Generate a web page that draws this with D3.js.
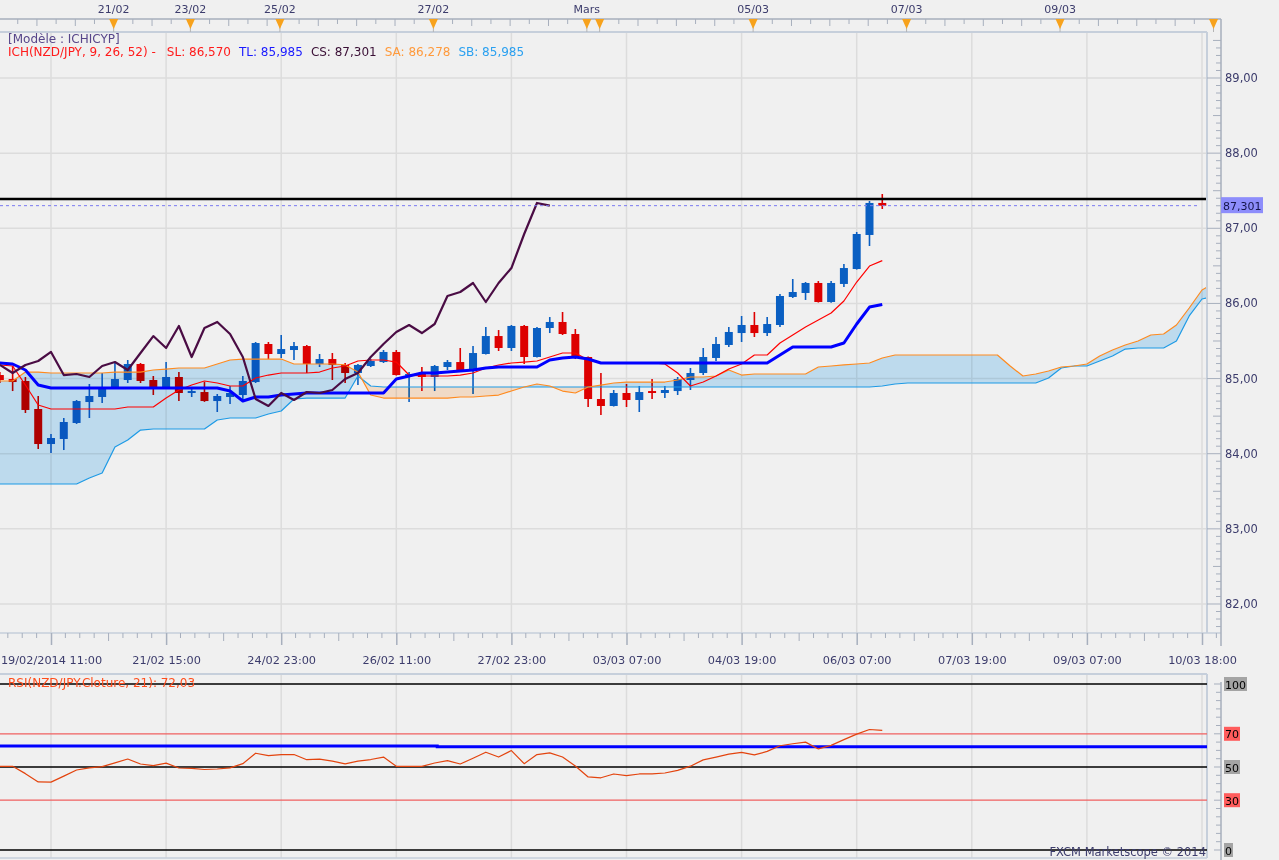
<!DOCTYPE html>
<html lang="fr">
<head>
<meta charset="utf-8">
<title>NZD/JPY Ichimoku</title>
<script src="https://cdn.jsdelivr.net/npm/d3@7/dist/d3.min.js"></script>
<style>
html,body{margin:0;padding:0;background:#f0f0f0;}
svg{display:block;font-family:"DejaVu Sans",Verdana,sans-serif;font-size:11px;}
</style>
</head>
<body>
<svg id="chart" width="1279" height="860"></svg>
<script>
// ---------------- DATA ----------------
const opens = [85.047,84.994,84.968,84.595,84.129,84.196,84.409,84.688,84.755,84.888,
  84.981,85.194,84.981,84.888,85.021,84.808,84.821,84.701,84.755,84.781,
  84.954,85.460,85.327,85.380,85.433,85.194,85.260,85.181,85.074,85.167,
  85.220,85.354,85.047,85.074,85.021,85.154,85.220,85.114,85.327,85.566,
  85.407,85.700,85.287,85.673,85.753,85.593,85.287,84.728,84.635,84.808,
  84.715,84.834,84.808,84.834,84.981,85.074,85.274,85.447,85.606,85.713,
  85.606,85.713,86.086,86.139,86.272,86.019,86.259,86.458,86.911,87.337];
const highs = [85.087,85.167,85.021,84.768,84.262,84.475,84.715,84.928,85.074,85.207,
  85.247,85.207,85.034,85.220,85.087,84.874,84.954,84.795,84.901,85.034,
  85.487,85.487,85.580,85.487,85.447,85.327,85.340,85.207,85.194,85.260,
  85.380,85.380,85.087,85.154,85.181,85.247,85.407,85.433,85.686,85.646,
  85.713,85.713,85.686,85.819,85.886,85.660,85.294,85.074,84.848,84.928,
  84.901,84.994,84.901,85.021,85.141,85.407,85.553,85.686,85.833,85.886,
  85.819,86.125,86.325,86.285,86.298,86.298,86.525,86.951,87.363,87.456];
const lows = [84.941,84.834,84.542,84.063,84.009,84.049,84.396,84.475,84.675,84.875,
  84.941,84.941,84.781,84.875,84.701,84.755,84.690,84.555,84.661,84.701,
  84.941,85.260,85.274,85.247,85.074,85.154,84.981,84.941,84.914,85.154,
  85.207,85.040,84.688,84.834,84.834,85.114,85.101,84.795,85.320,85.367,
  85.367,85.194,85.280,85.606,85.580,85.260,84.622,84.515,84.628,84.622,
  84.555,84.728,84.741,84.781,84.848,85.047,85.234,85.420,85.487,85.553,
  85.566,85.686,86.072,86.046,86.012,86.010,86.219,86.450,86.764,87.257];
const closes = [84.981,84.954,84.582,84.129,84.209,84.422,84.701,84.768,84.874,84.994,
  85.194,84.968,84.888,85.021,84.808,84.834,84.701,84.768,84.808,84.968,
  85.473,85.327,85.393,85.433,85.194,85.260,85.181,85.074,85.181,85.234,
  85.354,85.047,85.061,85.021,85.167,85.220,85.114,85.340,85.566,85.407,
  85.700,85.287,85.673,85.753,85.593,85.287,84.728,84.635,84.808,84.715,
  84.821,84.808,84.848,84.994,85.074,85.287,85.460,85.620,85.713,85.606,
  85.726,86.099,86.152,86.272,86.019,86.272,86.471,86.924,87.337,87.301];

// SL (red, thin)
const lineSL = [85.181,85.167,84.914,84.648,84.595,84.595,84.595,84.595,84.595,84.595,
  84.622,84.622,84.622,84.741,84.848,84.914,84.968,84.941,84.901,84.901,
  85.008,85.047,85.074,85.074,85.074,85.087,85.141,85.167,85.234,85.247,
  85.247,85.220,85.047,85.034,85.034,85.034,85.047,85.074,85.141,85.181,
  85.207,85.220,85.234,85.287,85.340,85.340,85.247,85.207,85.207,85.207,
  85.207,85.207,85.194,85.074,84.901,84.954,85.034,85.127,85.194,85.314,
  85.314,85.473,85.580,85.686,85.779,85.873,86.032,86.285,86.498,86.570];
// TL (blue, thick)
const lineTL = [85.207,85.194,85.114,84.914,84.874,84.874,84.874,84.874,84.874,84.874,
  84.874,84.874,84.874,84.874,84.874,84.874,84.874,84.874,84.834,84.701,
  84.755,84.755,84.781,84.795,84.808,84.808,84.808,84.808,84.808,84.808,
  84.808,84.994,85.034,85.074,85.074,85.087,85.101,85.114,85.141,85.154,
  85.154,85.154,85.154,85.247,85.274,85.287,85.260,85.207,85.207,85.207,
  85.207,85.207,85.207,85.207,85.207,85.207,85.207,85.207,85.207,85.207,
  85.207,85.314,85.420,85.420,85.420,85.420,85.473,85.726,85.952,85.985];
// CS (lagging span, dark purple) — starts at candle 0
const lineCS = [85.181,85.074,85.181,85.234,85.354,85.047,85.061,85.021,85.167,85.220,
  85.114,85.340,85.566,85.407,85.700,85.287,85.673,85.753,85.593,85.287,
  84.728,84.635,84.808,84.715,84.821,84.808,84.848,84.994,85.074,85.287,
  85.460,85.620,85.713,85.606,85.726,86.099,86.152,86.272,86.019,86.272,
  86.471,86.924,87.337,87.301];
// SA (orange) and SB (light blue), projected 26 periods ahead
const lineSA = [84.968,84.968,85.087,85.087,85.074,85.074,85.074,85.074,85.074,85.087,
  85.087,85.087,85.114,85.127,85.141,85.141,85.141,85.194,85.247,85.260,
  85.260,85.260,85.260,85.194,85.194,85.194,85.194,85.181,85.087,84.781,
  84.741,84.741,84.741,84.741,84.741,84.741,84.755,84.755,84.768,84.781,
  84.834,84.888,84.928,84.901,84.834,84.808,84.888,84.914,84.941,84.954,
  84.954,84.954,84.954,84.981,85.021,85.021,85.034,85.114,85.047,85.061,
  85.061,85.061,85.061,85.061,85.154,85.167,85.181,85.194,85.207,85.274,
  85.314,85.314,85.314,85.314,85.314,85.314,85.314,85.314,85.314,85.167,
  85.034,85.061,85.101,85.154,85.167,85.194,85.300,85.380,85.447,85.500,
  85.580,85.593,85.713,85.939,86.179,86.278];
const lineSB = [83.597,83.597,83.597,83.597,83.597,83.597,83.597,83.677,83.743,84.089,
  84.182,84.315,84.329,84.329,84.329,84.329,84.329,84.449,84.475,84.475,
  84.475,84.528,84.568,84.728,84.741,84.741,84.741,84.741,85.034,84.901,
  84.888,84.888,84.888,84.888,84.888,84.888,84.888,84.888,84.888,84.888,
  84.888,84.888,84.888,84.888,84.888,84.888,84.888,84.888,84.888,84.888,
  84.888,84.888,84.888,84.888,84.888,84.888,84.888,84.888,84.888,84.888,
  84.888,84.888,84.888,84.888,84.888,84.888,84.888,84.888,84.888,84.901,
  84.928,84.941,84.941,84.941,84.941,84.941,84.941,84.941,84.941,84.941,
  84.941,84.941,85.008,85.141,85.167,85.167,85.234,85.300,85.393,85.407,
  85.407,85.407,85.500,85.833,86.059,86.099];

// RSI(21)
const rsiValues = [50.4,50.4,46,41,40.9,44.5,48.2,49.5,50.2,52.5,
  54.8,51.8,50.8,52.3,49.4,49.2,48.5,48.8,49.5,52,
  58.3,56.8,57.5,57.5,54.4,54.7,53.5,51.9,53.5,54.5,
  56,50.4,50.4,50.4,52.4,53.8,51.8,55.3,58.9,56,
  59.9,52,57.5,58.5,56,50.6,44,43.5,45.8,44.8,
  45.8,45.8,46.4,48,50.5,54.3,56,57.8,58.8,57.3,
  59.4,62.8,64,65,60.9,63,66.5,69.8,72.6,72.03];
const rsiBlueLevels = [62.7, 62.2];
const rsiBlueBreak = 34.2;       // candle index where the blue level steps
const rsiLevels = [100, 70, 50, 30, 0];

const horizLevel = 87.39;        // solid black line
const lastClose = 87.301;        // dashed line + badge

const priceTicks = [82,83,84,85,86,87,88,89];
const timeTickIdx = [4,13,22,31,40,49,58,67,76,85,94];
const timeTickLabels = ["19/02/2014 11:00","21/02 15:00","24/02 23:00","26/02 11:00","27/02 23:00",
  "03/03 07:00","04/03 19:00","06/03 07:00","07/03 19:00","09/03 07:00","10/03 18:00"];
const dayMarkIdx = [9,15,22,34,46,47,59,71,83,95];
const dayMarkLabels = ["21/02","23/02","25/02","27/02","Mars","","05/03","07/03","09/03",""];

const legendTitle = "[Modèle : ICHICYP]";
const legendParts = [
  {t:"ICH(NZD/JPY, 9, 26, 52) -", c:"#ff1a1a"},
  {t:"SL: 86,570", c:"#ff1a1a"},
  {t:"TL: 85,985", c:"#1a1aff"},
  {t:"CS: 87,301", c:"#3a0f35"},
  {t:"SA: 86,278", c:"#ff9a3c"},
  {t:"SB: 85,985", c:"#2aa0f0"}
];
const rsiTitle = "RSI(NZD/JPY.Cloture, 21): 72,03";
const copyright = "FXCM Marketscope © 2014";

// ---------------- LAYOUT ----------------
const PL=0, PR=1207, PT=32, PB=633, RT=674, RB=858, AX=1221;
const UP="#0a5fc2", DOWN="#dd0000", TXT="#3c3c6c", GRID="#dcdcdc", FRAME="#c6cfdb", RULE="#a7afbd";

const svg = d3.select("#chart");
const x = d3.scaleLinear().domain([4,94]).range([51,1202]);
const y = d3.scaleLinear().domain([82,89]).range([604,78]);
const yR = d3.scaleLinear().domain([0,100]).range([850,684]);
const fmtP = v => d3.format(".2f")(v).replace(".", ",");
const fmt3 = v => d3.format(".3f")(v).replace(".", ",");
const markShift = -0.1;

svg.append("rect").attr("width",1279).attr("height",860).attr("fill","#f0f0f0");
const defs = svg.append("defs");
defs.append("clipPath").attr("id","clipPlot").append("rect")
  .attr("x",PL).attr("y",PT).attr("width",PR-PL).attr("height",PB-PT);
defs.append("clipPath").attr("id","clipRsi").append("rect")
  .attr("x",PL).attr("y",RT).attr("width",PR-PL).attr("height",RB-RT);

// ---------- grids ----------
const gGrid = svg.append("g");
gGrid.selectAll("line.hg").data(priceTicks).join("line").attr("class","hg")
  .attr("x1",PL).attr("x2",PR).attr("y1",d=>y(d)).attr("y2",d=>y(d))
  .attr("stroke",GRID).attr("stroke-width",1.5);
gGrid.selectAll("line.vg").data(timeTickIdx).join("line").attr("class","vg")
  .attr("x1",d=>x(d)).attr("x2",d=>x(d)).attr("y1",PT).attr("y2",PB)
  .attr("stroke",GRID).attr("stroke-width",1.5);
gGrid.selectAll("line.vgr").data(timeTickIdx).join("line").attr("class","vgr")
  .attr("x1",d=>x(d)).attr("x2",d=>x(d)).attr("y1",RT).attr("y2",RB)
  .attr("stroke",GRID).attr("stroke-width",1.5);

// ---------- candles ----------
const candles = d3.range(closes.length).map(i=>({i,o:opens[i],h:highs[i],l:lows[i],c:closes[i]}));
const gC = svg.append("g").attr("clip-path","url(#clipPlot)");
gC.selectAll("line.wick").data(candles).join("line").attr("class","wick")
  .attr("x1",d=>x(d.i)).attr("x2",d=>x(d.i)).attr("y1",d=>y(d.h)).attr("y2",d=>y(d.l))
  .attr("stroke",d=>d.c>=d.o?UP:DOWN).attr("stroke-width",1.6);
gC.selectAll("rect.body").data(candles).join("rect").attr("class","body")
  .attr("x",d=>x(d.i)-4).attr("width",8)
  .attr("y",d=>y(Math.max(d.o,d.c)))
  .attr("height",d=>Math.max(1.8,Math.abs(y(d.o)-y(d.c))))
  .attr("fill",d=>d.c>=d.o?UP:DOWN);

// ---------- cloud ----------
const idxC = d3.range(lineSA.length);
defs.append("clipPath").attr("id","cAbove").append("path")
  .attr("d", d3.area().x(i=>x(i)).y0(0).y1(i=>y(lineSB[i]))(idxC));
defs.append("clipPath").attr("id","cBelow").append("path")
  .attr("d", d3.area().x(i=>x(i)).y0(900).y1(i=>y(lineSB[i]))(idxC));
const cloudArea = d3.area().x(i=>x(i)).y0(i=>y(lineSB[i])).y1(i=>y(lineSA[i]));
const gCloud = svg.append("g").attr("clip-path","url(#clipPlot)").style("mix-blend-mode","multiply");
gCloud.append("path").attr("d",cloudArea(idxC)).attr("fill","#c9e8fc").attr("clip-path","url(#cAbove)");
gCloud.append("path").attr("d",cloudArea(idxC)).attr("fill","#ffe8d3").attr("clip-path","url(#cBelow)");

// ---------- indicator lines ----------
const gL = svg.append("g").attr("clip-path","url(#clipPlot)")
  .attr("fill","none").attr("stroke-linejoin","round");
const seq = d3.line().x((d,i)=>x(i)).y(d=>y(d));
gL.append("path").attr("d",seq(lineSB)).attr("stroke","#1c9ae6").attr("stroke-width",1.2);
gL.append("path").attr("d",seq(lineSA)).attr("stroke","#ff8a1e").attr("stroke-width",1.2);
gL.append("path").attr("d",seq(lineSL)).attr("stroke","#ff0000").attr("stroke-width",1.2);
gL.append("path").attr("d",seq(lineTL)).attr("stroke","#0000ff").attr("stroke-width",3);
gL.append("path").attr("d",seq(lineCS)).attr("stroke","#4a0c44").attr("stroke-width",2.2);

// level lines
gL.append("line").attr("x1",PL).attr("x2",PR).attr("y1",y(horizLevel)).attr("y2",y(horizLevel))
  .attr("stroke","#000").attr("stroke-width",2.4);
gL.append("line").attr("x1",PL).attr("x2",1200).attr("y1",y(lastClose)).attr("y2",y(lastClose))
  .attr("stroke","#7a7af0").attr("stroke-width",1).attr("stroke-dasharray","3,3");

// ---------- legend ----------
svg.append("text").attr("x",8).attr("y",43).attr("font-size",12).attr("fill","#57468a").text(legendTitle);
let lx = 8;
legendParts.forEach((p,k)=>{
  const t = svg.append("text").attr("x",lx).attr("y",56).attr("font-size",12).attr("fill",p.c).text(p.t);
  lx += t.node().getComputedTextLength() + (k===0?11:8);
});

// ---------- frames ----------
svg.append("line").attr("x1",PL).attr("x2",PR).attr("y1",PT).attr("y2",PT).attr("stroke",FRAME).attr("stroke-width",2);
svg.append("line").attr("x1",PR).attr("x2",PR).attr("y1",PT).attr("y2",PB).attr("stroke",FRAME).attr("stroke-width",2);
svg.append("line").attr("x1",PL).attr("x2",AX).attr("y1",PB).attr("y2",PB).attr("stroke",FRAME).attr("stroke-width",1.5);
svg.append("line").attr("x1",PL).attr("x2",PR).attr("y1",RT).attr("y2",RT).attr("stroke",FRAME).attr("stroke-width",2);
svg.append("line").attr("x1",PR).attr("x2",PR).attr("y1",RT).attr("y2",RB).attr("stroke",FRAME).attr("stroke-width",2);
svg.append("line").attr("x1",PL).attr("x2",PR).attr("y1",RB).attr("y2",RB).attr("stroke",FRAME).attr("stroke-width",1.5);

// ---------- top date ruler ----------
const gTop = svg.append("g");
gTop.append("line").attr("x1",0).attr("x2",AX).attr("y1",19).attr("y2",19).attr("stroke",RULE).attr("stroke-width",1.5);
const topTicks = [];
for (let t=dayMarkIdx[0]-1.5, n=1; t>-1; t-=1.5, n++) topTicks.push({i:t, long:n%2===0});
dayMarkIdx.forEach((m,k)=>{
  const next = k<dayMarkIdx.length-1 ? dayMarkIdx[k+1] : m;
  for (let t=m+1.5, n=1; t<next-0.4; t+=1.5, n++) topTicks.push({i:t, long:n%2===0});
});
gTop.selectAll("line.tt").data(topTicks.filter(d=>x(d.i+markShift)<AX)).join("line").attr("class","tt")
  .attr("x1",d=>x(d.i+markShift)).attr("x2",d=>x(d.i+markShift))
  .attr("y1",19).attr("y2",d=>d.long?26:24).attr("stroke",RULE).attr("stroke-width",1);
const marks = dayMarkIdx.map((m,k)=>({x:x(m+markShift), label:dayMarkLabels[k]}));
gTop.selectAll("line.tm").data(marks).join("line").attr("class","tm")
  .attr("x1",d=>d.x).attr("x2",d=>d.x).attr("y1",26).attr("y2",32).attr("stroke","#b4b4b4");
gTop.selectAll("path.tri").data(marks).join("path").attr("class","tri")
  .attr("d",d=>`M${d.x-4.5},19L${d.x+4.5},19L${d.x},29Z`).attr("fill","#f7a21c");
gTop.selectAll("text.tl").data(marks.filter(d=>d.label)).join("text").attr("class","tl")
  .attr("x",d=>d.x).attr("y",13).attr("text-anchor","middle").attr("fill",TXT).text(d=>d.label);

// ---------- bottom time axis ----------
const xAxis = d3.axisBottom(x).tickValues(timeTickIdx)
  .tickFormat((d,i)=>timeTickLabels[i]).tickSize(12).tickPadding(11);
const gX = svg.append("g").attr("transform",`translate(0,${PB})`).call(xAxis);
gX.select(".domain").remove();
gX.selectAll(".tick line").attr("stroke",RULE).attr("stroke-width",1.5);
gX.selectAll(".tick text").attr("fill",TXT).attr("font-size",11.3).attr("font-family","DejaVu Sans");
const minor = [];
for (let m=timeTickIdx[0]-9; m<=timeTickIdx[timeTickIdx.length-1]; m+=9)
  for (let j=1;j<8;j++) minor.push({i:m+9*j/8, j});
svg.append("g").selectAll("line").data(minor.filter(d=>x(d.i)>0 && x(d.i)<AX)).join("line")
  .attr("x1",d=>x(d.i)).attr("x2",d=>x(d.i)).attr("y1",PB).attr("y2",d=>d.j===4?641:638)
  .attr("stroke",RULE).attr("stroke-width",1);

// ---------- right price axis ----------
const gY = svg.append("g");
gY.append("line").attr("x1",AX).attr("x2",AX).attr("y1",19).attr("y2",646).attr("stroke",RULE).attr("stroke-width",1.5);
const yMinor = d3.range(817, 896).map(d=>d/10);
gY.selectAll("line.ym").data(yMinor).join("line").attr("class","ym")
  .attr("x1",d=>{const r=Math.round(d*10)%10; return r===0?PR:(r===5?1213:1216);})
  .attr("x2",AX).attr("y1",d=>y(d)).attr("y2",d=>y(d)).attr("stroke",RULE).attr("stroke-width",1);
gY.selectAll("text.yl").data(priceTicks).join("text").attr("class","yl")
  .attr("x",1225).attr("y",d=>y(d)+4).attr("font-size",11.5).attr("fill",TXT).text(d=>fmtP(d));
// last price badge
gY.append("rect").attr("x",AX).attr("y",y(lastClose)-8.5).attr("width",42).attr("height",16).attr("fill","#8d8dfb");
gY.append("text").attr("x",1223).attr("y",y(lastClose)+4).attr("fill","#15154a").text(fmt3(lastClose));

// ---------- RSI panel ----------
const gR = svg.append("g").attr("clip-path","url(#clipRsi)").attr("fill","none");
gR.selectAll("line.lv").data(rsiLevels).join("line").attr("class","lv")
  .attr("x1",PL).attr("x2",PR).attr("y1",d=>yR(d)).attr("y2",d=>yR(d))
  .attr("stroke",d=>(d===70||d===30)?"#f06060":"#000").attr("stroke-width",d=>(d===70||d===30)?1.2:1.4);
const bluePts = [[0,rsiBlueLevels[0]],[rsiBlueBreak,rsiBlueLevels[0]],[rsiBlueBreak,rsiBlueLevels[1]],[96,rsiBlueLevels[1]]];
gR.append("path").attr("d",d3.line().x(d=>x(d[0])).y(d=>yR(d[1]))(bluePts)).attr("stroke","#0000ff").attr("stroke-width",3);
gR.append("path").attr("d",d3.line().x((d,i)=>x(i)).y(d=>yR(d))(rsiValues))
  .attr("stroke","#e3440e").attr("stroke-width",1.2).attr("stroke-linejoin","round");

svg.append("text").attr("x",8).attr("y",687).attr("font-size",12).attr("fill","#ff4d1c").text(rsiTitle);

// RSI axis
const gRA = svg.append("g");
gRA.append("line").attr("x1",AX).attr("x2",AX).attr("y1",RT+8).attr("y2",860).attr("stroke",RULE).attr("stroke-width",1.5);
gRA.selectAll("line.rm").data(d3.range(0,101,5)).join("line").attr("class","rm")
  .attr("x1",d=>rsiLevels.includes(d)?1214:1216).attr("x2",AX)
  .attr("y1",d=>yR(d)).attr("y2",d=>yR(d)).attr("stroke",RULE).attr("stroke-width",1);
rsiLevels.forEach(v=>{
  const t = gRA.append("text").attr("x",1225).attr("y",yR(v)+4.5).attr("fill","#000").text(String(v));
  const w = t.node().getComputedTextLength();
  gRA.insert("rect","text").attr("x",1224).attr("y",yR(v)-7).attr("width",w+2).attr("height",14)
    .attr("fill",(v===70||v===30)?"#ff5c5c":"#a4a4a4");
});

svg.append("text").attr("x",1206).attr("y",856).attr("text-anchor","end").attr("fill",TXT)
  .attr("font-size",11.5).text(copyright);
</script>
</body>
</html>
